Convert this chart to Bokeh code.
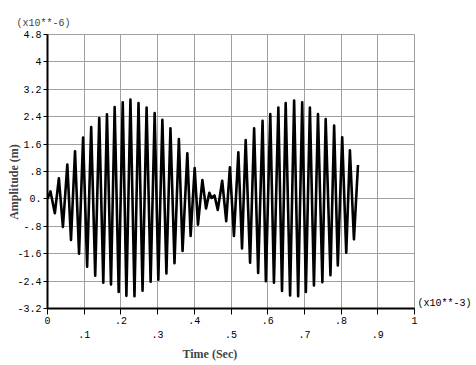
import math
from bokeh.plotting import figure
from bokeh.models import FixedTicker, LinearAxis, Range1d, Grid, Title
from bokeh.embed import file_html
from bokeh.resources import INLINE

# Time in units of 1e-3 s, amplitude in units of 1e-6 m (extrema)
time_ms = [0.000, 0.008, 0.020, 0.031, 0.042, 0.054, 0.064, 0.075, 0.086, 0.097,
           0.108, 0.119, 0.130, 0.141, 0.152, 0.162, 0.173, 0.183, 0.194, 0.205,
           0.215, 0.226, 0.237, 0.248, 0.259, 0.270, 0.281, 0.292, 0.302, 0.313,
           0.324, 0.335, 0.346, 0.358, 0.368, 0.381, 0.390, 0.401, 0.410, 0.422,
           0.432, 0.441, 0.447, 0.455, 0.464, 0.476, 0.487, 0.497, 0.508, 0.520,
           0.530, 0.540, 0.552, 0.563, 0.574, 0.586, 0.595, 0.607, 0.617, 0.629,
           0.639, 0.649, 0.661, 0.672, 0.683, 0.694, 0.704, 0.715, 0.726, 0.737,
           0.749, 0.758, 0.771, 0.781, 0.791, 0.803, 0.814, 0.824, 0.835, 0.846]
amp_um = [0.00, 0.22, -0.42, 0.60, -0.82, 1.00, -1.20, 1.39, -1.60, 1.79,
          -1.98, 2.10, -2.24, 2.36, -2.45, 2.47, -2.50, 2.68, -2.72, 2.82,
          -2.83, 2.90, -2.84, 2.80, -2.68, 2.67, -2.42, 2.51, -2.36, 2.31,
          -2.18, 2.06, -1.88, 1.75, -1.52, 1.33, -1.08, 0.90, -0.75, 0.55,
          -0.28, 0.18, 0.03, 0.10, -0.32, 0.53, -0.65, 0.92, -1.08, 1.36,
          -1.45, 1.72, -1.86, 2.06, -2.16, 2.28, -2.40, 2.48, -2.45, 2.67,
          -2.69, 2.80, -2.82, 2.87, -2.84, 2.82, -2.72, 2.67, -2.53, 2.48,
          -2.43, 2.33, -2.23, 2.14, -1.94, 1.80, -1.57, 1.42, -1.18, 0.99]

x_even_ticks = [0, 0.2, 0.4, 0.6, 0.8, 1.0]
x_even_labels = ["0", ".2", ".4", ".6", ".8", "1"]
x_odd_ticks = [0.1, 0.3, 0.5, 0.7, 0.9]
x_odd_labels = [".1", ".3", ".5", ".7", ".9"]
y_ticks = [-3.2, -2.4, -1.6, -0.8, 0, 0.8, 1.6, 2.4, 3.2, 4, 4.8]
y_labels = ["-3.2", "-2.4", "-1.6", "-.8", "0.", ".8", "1.6", "2.4", "3.2", "4", "4.8"]
x_scale_text = "(x10**-3)"
y_scale_text = "(x10**-6)"
x_title = "Time (Sec)"
y_title = "Amplitude (m)"

MONO = "Liberation Mono"
SERIF = "Liberation Serif"
GRID = "#a0a0a0"
NB = "\u00a0"

p = figure(width=476, height=365, x_range=Range1d(0, 1), y_range=Range1d(-3.2, 4.8),
           output_backend="svg", toolbar_location=None,
           x_axis_type=None, y_axis_type=None,
           min_border_left=47, min_border_right=62, min_border_top=34, min_border_bottom=57)
p.background_fill_color = "white"
p.border_fill_color = "white"
p.outline_line_color = GRID
p.outline_line_width = 1

all_x = sorted(x_even_ticks + x_odd_ticks)
p.add_layout(Grid(dimension=0, ticker=FixedTicker(ticks=all_x), grid_line_color=GRID, grid_line_width=1))
p.add_layout(Grid(dimension=1, ticker=FixedTicker(ticks=y_ticks), grid_line_color=GRID, grid_line_width=1))

def style_labels(ax):
    ax.major_label_text_font = MONO
    ax.major_label_text_font_size = "10px"
    ax.major_label_text_color = "black"

xa = LinearAxis(ticker=FixedTicker(ticks=x_even_ticks, minor_ticks=x_odd_ticks))
xa.axis_line_width = 2
xa.axis_line_color = "black"
xa.major_tick_in = 0
xa.major_tick_out = 6
xa.minor_tick_in = 0
xa.minor_tick_out = 6
xa.minor_tick_line_color = "black"
xa.major_label_standoff = 2
xa.major_label_text_align = "left"
xa.major_label_overrides = dict(zip(x_even_ticks, x_even_labels))
style_labels(xa)
p.add_layout(xa, "below")

xb = LinearAxis(ticker=FixedTicker(ticks=x_odd_ticks, minor_ticks=[]))
xb.axis_line_color = None
xb.major_tick_line_color = None
xb.minor_tick_line_color = None
xb.major_tick_in = 0
xb.major_tick_out = 0
xb.major_label_standoff = 4
xb.major_label_text_align = "left"
xb.major_label_overrides = dict(zip(x_odd_ticks, x_odd_labels))
style_labels(xb)
p.add_layout(xb, "below")

ya = LinearAxis(ticker=FixedTicker(ticks=y_ticks, minor_ticks=[]))
ya.axis_line_width = 2
ya.axis_line_color = "black"
ya.major_tick_in = 0
ya.major_tick_out = 4
ya.major_label_standoff = 2
ya.major_label_overrides = dict(zip(y_ticks, y_labels))
ya.axis_label = y_title + NB * 7
ya.axis_label_text_font = SERIF
ya.axis_label_text_font_size = "12px"
ya.axis_label_text_font_style = "bold"
ya.axis_label_standoff = -7
style_labels(ya)
p.add_layout(ya, "left")

# right-hand axis carrying only the x multiplier text, level with the x axis
scale_pos = 4.8 - (303 - 34) / 34.25
yr = LinearAxis(ticker=FixedTicker(ticks=[scale_pos], minor_ticks=[]))
yr.axis_line_color = None
yr.major_tick_line_color = None
yr.major_tick_in = 0
yr.major_tick_out = 0
yr.major_label_standoff = 3
yr.major_label_overrides = {scale_pos: x_scale_text}
style_labels(yr)
p.add_layout(yr, "right")

p.line(time_ms, amp_um, line_color="black", line_width=2.6, line_join="round")

p.add_layout(Title(text=y_scale_text, align="left", offset=-31, standoff=11,
                   text_font=MONO, text_font_size="10px", text_font_style="normal"), "above")
p.add_layout(Title(text=x_title, align="left", offset=135, standoff=8,
                   text_font=SERIF, text_font_size="12px", text_font_style="bold"), "below")

open("out.html", "w").write(file_html(p, INLINE))
